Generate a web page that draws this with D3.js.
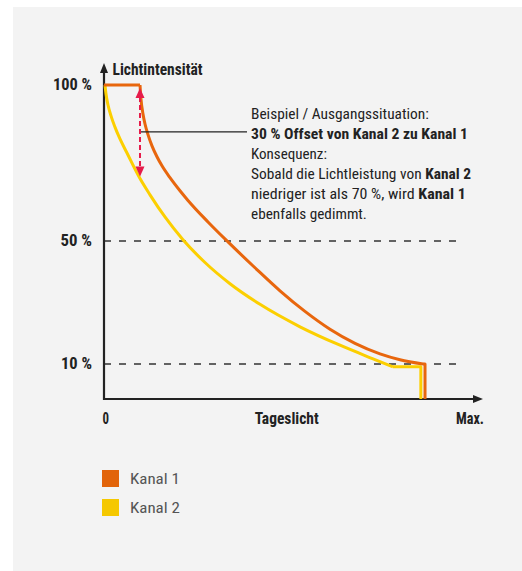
<!DOCTYPE html>
<html>
<head>
<meta charset="utf-8">
<script src="https://cdn.jsdelivr.net/npm/d3@7"></script>
<style>
  html, body { margin: 0; padding: 0; background: #ffffff; }
  svg { display: block; }
</style>
</head>
<body>
<svg id="chart" width="522" height="571"></svg>
<script>
// ---------- DATA ----------
// x = Tageslicht (0 .. Max = 100), y = Lichtintensität (%)
const kanal1Flat  = [[0, 100], [9.5, 100]];
const kanal1Curve = [[9.5, 100], [9.76, 95.5], [10.29, 90.7], [10.82, 87.5], [11.61, 84.1], [12.66, 80.5],
                     [13.98, 77.0], [15.30, 74.1], [17.41, 70.3], [20.05, 66.1], [22.16, 63.0], [27.44, 56.1],
                     [32.72, 49.7], [39.84, 41.3], [46.44, 33.8], [53.03, 27.1], [59.63, 21.3], [66.23, 16.7],
                     [72.82, 13.3], [78.10, 11.4], [84.17, 10]];
const kanal1Drop  = [[84.17, 10], [84.7, 10], [84.7, 0]];

const kanal2Curve = [[0.26, 100], [0.53, 97.1], [1.06, 93.6], [1.85, 90.1], [2.90, 86.5], [4.22, 82.7],
                     [6.07, 78.2], [9.5, 70], [12.14, 64.8], [16.09, 57.7], [20.84, 50.4], [26.65, 43.0],
                     [33.25, 36.1], [41.16, 29.4], [51.72, 22.1], [62.27, 16.1], [70.98, 11.7], [76.25, 9.2]];
const kanal2Drop  = [[76.25, 9.2], [83.6, 9.2], [83.6, 0]];

const yTickValues = [100, 50, 10];
const yTickLabels = ["100 %", "50 %", "10 %"];
const dashedLevels = [50, 10];
const xLabelValues = [0, 49, 100];
const xLabelTexts = ["0", "Tageslicht", "Max."];
const yAxisTitle = "Lichtintensität";

const offsetArrow = { x: 9.5, from: 100, to: 70 };
const leaderLevel = 85;

const noteLines = [
  [{ t: "Beispiel / Ausgangssituation:" }],
  [{ t: "30 % Offset von Kanal 2 zu Kanal 1", b: true }],
  [{ t: "Konsequenz:" }],
  [{ t: "Sobald die Lichtleistung von " }, { t: "Kanal 2", b: true }],
  [{ t: "niedriger ist als 70 %, wird " }, { t: "Kanal 1", b: true }],
  [{ t: "ebenfalls gedimmt." }]
];

const legendLabels = ["Kanal 1", "Kanal 2"];

// ---------- STYLE ----------
const C1 = "#e8660d", C2 = "#fccf00", C1leg = "#e2640a", C2leg = "#f5c800";
const ARROWC = "#e61b4a";
const INK = "#222222";
const FONT = "'Liberation Sans Narrow','Roboto Condensed','DejaVu Sans Condensed','Arial Narrow','DejaVu Sans',sans-serif";

const svg = d3.select("#chart");

// panel background
svg.append("rect").attr("x", 13).attr("y", 7).attr("width", 509).attr("height", 564).attr("fill", "#f3f3f3");

// scales (schematic, piecewise linear y)
const x = d3.scaleLinear().domain([0, 100]).range([104, 483]);
const y = d3.scaleLinear().domain([0, 10, 50, 100]).range([399, 364, 241, 85]);

// helper: squeeze text horizontally to a target width
function fit(sel, target, anchorX) {
  const w = sel.node().getComputedTextLength();
  if (w > 0 && target) {
    const k = target / w;
    sel.attr("transform", `translate(${anchorX},0) scale(${k},1) translate(${-anchorX},0)`);
  }
}

// dashed guide lines
svg.selectAll("line.guide").data(dashedLevels).join("line")
  .attr("class", "guide")
  .attr("x1", x(0)).attr("x2", x(94))
  .attr("y1", d => y(d)).attr("y2", d => y(d))
  .attr("stroke", "#333").attr("stroke-width", 1.3)
  .attr("stroke-dasharray", "7 8");

// axes
const yTop = 63;
svg.append("line").attr("x1", x(0)).attr("x2", x(0)).attr("y1", y(0) + 1).attr("y2", yTop + 8)
  .attr("stroke", INK).attr("stroke-width", 2.2);
svg.append("path").attr("d", `M${x(0)},${yTop} L${x(0) - 4},${yTop + 10} L${x(0) + 4},${yTop + 10} Z`).attr("fill", INK);
svg.append("line").attr("x1", x(0) - 1).attr("x2", x(100) - 8).attr("y1", y(0)).attr("y2", y(0))
  .attr("stroke", INK).attr("stroke-width", 2.2);
svg.append("path").attr("d", `M${x(100)},${y(0)} L${x(100) - 10},${y(0) - 4} L${x(100) - 10},${y(0) + 4} Z`).attr("fill", INK);

// curves
const curveLine = d3.line().x(d => x(d[0])).y(d => y(d[1])).curve(d3.curveMonotoneX);
const straight = d3.line().x(d => x(d[0])).y(d => y(d[1]));

const g = svg.append("g").attr("fill", "none").attr("stroke-width", 3).attr("stroke-linejoin", "round");
g.append("path").attr("d", curveLine(kanal2Curve)).attr("stroke", C2);
g.append("path").attr("d", straight(kanal2Drop)).attr("stroke", C2);
g.append("path").attr("d", straight(kanal1Flat)).attr("stroke", C1);
g.append("path").attr("d", curveLine(kanal1Curve)).attr("stroke", C1);
g.append("path").attr("d", straight(kanal1Drop)).attr("stroke", C1);

// offset arrow
const ax = x(offsetArrow.x), ay1 = y(offsetArrow.from) + 3, ay2 = y(offsetArrow.to) - 2;
svg.append("line").attr("x1", ax).attr("x2", ax).attr("y1", ay1 + 9).attr("y2", ay2 - 9)
  .attr("stroke", ARROWC).attr("stroke-width", 2).attr("stroke-dasharray", "5 3");
svg.append("path").attr("d", `M${ax},${ay1} L${ax - 4.5},${ay1 + 10} L${ax + 4.5},${ay1 + 10} Z`).attr("fill", ARROWC);
svg.append("path").attr("d", `M${ax},${ay2} L${ax - 4.5},${ay2 - 10} L${ax + 4.5},${ay2 - 10} Z`).attr("fill", ARROWC);

// leader line
const noteX = 251;
svg.append("line").attr("x1", ax + 1).attr("x2", noteX - 4).attr("y1", y(leaderLevel)).attr("y2", y(leaderLevel))
  .attr("stroke", INK).attr("stroke-width", 1.2);

// y tick labels
const yTickWidths = [39, 31.5, 31];
yTickLabels.forEach((lab, i) => {
  const t = svg.append("text").attr("x", 92).attr("y", y(yTickValues[i]) + 5.5)
    .attr("text-anchor", "end").attr("font-family", FONT).attr("font-stretch", "condensed")
    .attr("font-weight", "bold").attr("font-size", 16).attr("fill", INK).text(lab);
  fit(t, yTickWidths[i], 92);
});

// y axis title
const tt = svg.append("text").attr("x", 112.5).attr("y", 75).attr("font-family", FONT).attr("font-stretch", "condensed")
  .attr("font-weight", "bold").attr("font-size", 16).attr("fill", INK).text(yAxisTitle);
fit(tt, 90, 112.5);

// x labels
const xAnchors = ["start", "middle", "end"];
const xWidths = [6.5, 64, 28];
xLabelTexts.forEach((lab, i) => {
  const px = i === 0 ? x(0) - 1.5 : (i === 2 ? x(100) + 1 : x(xLabelValues[i]) - 3);
  const t = svg.append("text").attr("x", px).attr("y", 424)
    .attr("text-anchor", xAnchors[i]).attr("font-family", FONT).attr("font-stretch", "condensed")
    .attr("font-weight", "bold").attr("font-size", 16).attr("fill", INK).text(lab);
  fit(t, xWidths[i], px);
});

// annotation text
const noteWidths = [178, 217, 76, 220, 215, 116];
noteLines.forEach((parts, i) => {
  const ly = 119 + i * 20.1;
  const t = svg.append("text").attr("x", noteX).attr("y", ly).attr("font-family", FONT)
    .attr("font-stretch", "condensed").attr("font-size", 15.5).attr("fill", INK);
  parts.forEach(p => t.append("tspan").attr("font-weight", p.b ? "bold" : "normal").text(p.t));
  fit(t, noteWidths[i], noteX);
});

// legend
const legColors = [C1leg, C2leg];
legendLabels.forEach((lab, i) => {
  const ly = 470 + i * 29;
  svg.append("rect").attr("x", 102).attr("y", ly).attr("width", 17).attr("height", 17).attr("fill", legColors[i]);
  const t = svg.append("text").attr("x", 130).attr("y", ly + 14).attr("font-family", FONT)
    .attr("font-stretch", "condensed").attr("font-size", 15).attr("fill", "#555").text(lab);
  fit(t, 50, 130);
});
</script>
</body>
</html>
